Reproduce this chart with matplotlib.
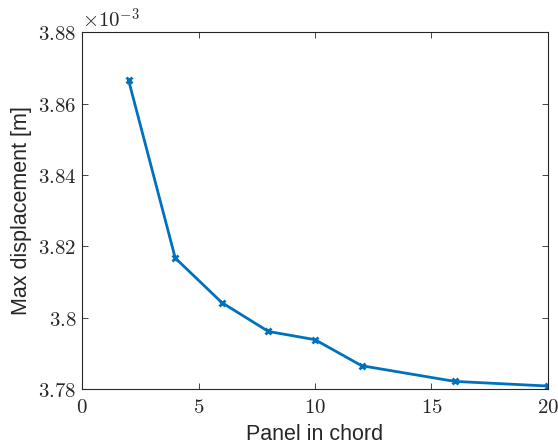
import matplotlib
matplotlib.use('Agg')
import matplotlib.pyplot as plt
from matplotlib.ticker import FuncFormatter

plt.rcParams['mathtext.fontset'] = 'cm'

# panels in chord vs max displacement [m]
panels = [2, 4, 6, 8, 10, 12, 16, 20]
max_disp = [3.8665e-3, 3.8167e-3, 3.8042e-3, 3.7961e-3, 3.7938e-3, 3.7865e-3, 3.7821e-3, 3.7808e-3]
xticks = [0, 5, 10, 15, 20]
yticks = [3.78e-3, 3.80e-3, 3.82e-3, 3.84e-3, 3.86e-3, 3.88e-3]

fig = plt.figure(figsize=(5.58, 4.47), dpi=100)
ax = fig.add_axes([0.147, 0.130, 0.835, 0.798])

ax.plot(panels, max_disp, color='#0072BD', linewidth=2.0, marker='x',
        markersize=5, markeredgewidth=2.0)

ax.set_xlim(0, 20)
ax.set_ylim(3.78e-3, 3.88e-3)
ax.set_xticks(xticks)
ax.set_yticks(yticks)

axcol = '#262626'
ax.xaxis.set_major_formatter(FuncFormatter(lambda v, p: r'$%g$' % v))
ax.yaxis.set_major_formatter(FuncFormatter(lambda v, p: r'$%g$' % round(v * 1e3, 4)))
ax.tick_params(direction='in', top=True, right=True, labelsize=15,
               colors=axcol, length=4.5, width=0.6, pad=4)
ax.tick_params(axis='x', pad=6)
for s in ax.spines.values():
    s.set_color(axcol)
    s.set_linewidth(0.8)

ax.text(0.0, 1.0, r'$\times10^{-3}$', transform=ax.transAxes, fontsize=15,
        color=axcol, ha='left', va='bottom')

ax.set_xlabel('Panel in chord', family='Liberation Sans', fontsize=15.5, color=axcol,
              labelpad=5)
ax.set_ylabel('Max displacement [m]', family='Liberation Sans', fontsize=15.5, color=axcol,
              labelpad=4)

fig.savefig('out.png', dpi=100)
